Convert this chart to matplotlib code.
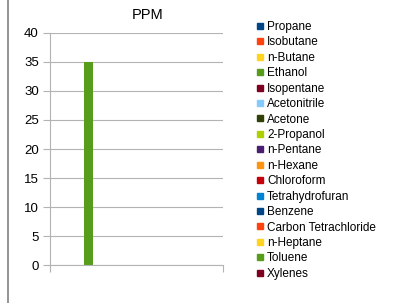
import matplotlib.pyplot as plt
from matplotlib.lines import Line2D

compounds = ["Propane", "Isobutane", "n-Butane", "Ethanol", "Isopentane",
             "Acetonitrile", "Acetone", "2-Propanol", "n-Pentane", "n-Hexane",
             "Chloroform", "Tetrahydrofuran", "Benzene", "Carbon Tetrachloride",
             "n-Heptane", "Toluene", "Xylenes"]
ppm = [0, 0, 0, 35, 0, 0, 0, 0, 0, 0, 0, 0, 0, 0, 0, 0, 0]
colors = ["#004586", "#ff420e", "#ffd320", "#579d1c", "#7e0021", "#83caff",
          "#314004", "#aecf00", "#4b1f6f", "#ff950e", "#c5000b", "#0084d1",
          "#004586", "#ff420e", "#ffd320", "#579d1c", "#7e0021"]
y_ticks = [0, 5, 10, 15, 20, 25, 30, 35, 40]


def main():
    plt.rcParams['font.family'] = ['Liberation Sans', 'DejaVu Sans']
    fig = plt.figure(figsize=(4.14, 3.03), dpi=100)
    ax = fig.add_axes([0.1208, 0.1254, 0.4179, 0.7657])

    # one category, one slot per compound, LibreOffice-style gap
    n = len(compounds)
    w = 1 / (n + 1)
    handles = []
    for i, (name, val, c) in enumerate(zip(compounds, ppm, colors)):
        ax.bar(w / 2 + i * w, val, width=w, align='edge', color=c, label=name)
        handles.append(Line2D([], [], marker='s', linestyle='', color=c,
                              markersize=4.4))

    ax.set_xlim(0, 1)
    ax.set_ylim(0, 40)
    ax.set_yticks(y_ticks)
    ax.set_xticks([0, 1])
    ax.set_xticklabels([])
    ax.grid(axis='y', color='#b3b3b3', linewidth=0.8)
    ax.set_axisbelow(True)
    for side in ['top', 'right']:
        ax.spines[side].set_visible(False)
    for side in ['left', 'bottom']:
        ax.spines[side].set_color('#b3b3b3')
    ax.tick_params(colors='#b3b3b3', labelcolor='black', length=5,
                   labelsize=9.5, pad=3)

    fig.text(148 / 414, 0.952, "PPM", ha='center', va='center', fontsize=10.5)

    fig.legend(handles, compounds, loc='upper left',
               bbox_to_anchor=(256 / 414, 1 - 21 / 303), frameon=False,
               fontsize=8.5, labelspacing=0.29, handlelength=0.6,
               handletextpad=0.33, borderpad=0, borderaxespad=0)

    fig.add_artist(Line2D([8 / 414, 8 / 414], [0, 1], color='#808080',
                          linewidth=1.2))

    fig.savefig("out.png", dpi=100)


if __name__ == "__main__":
    main()
